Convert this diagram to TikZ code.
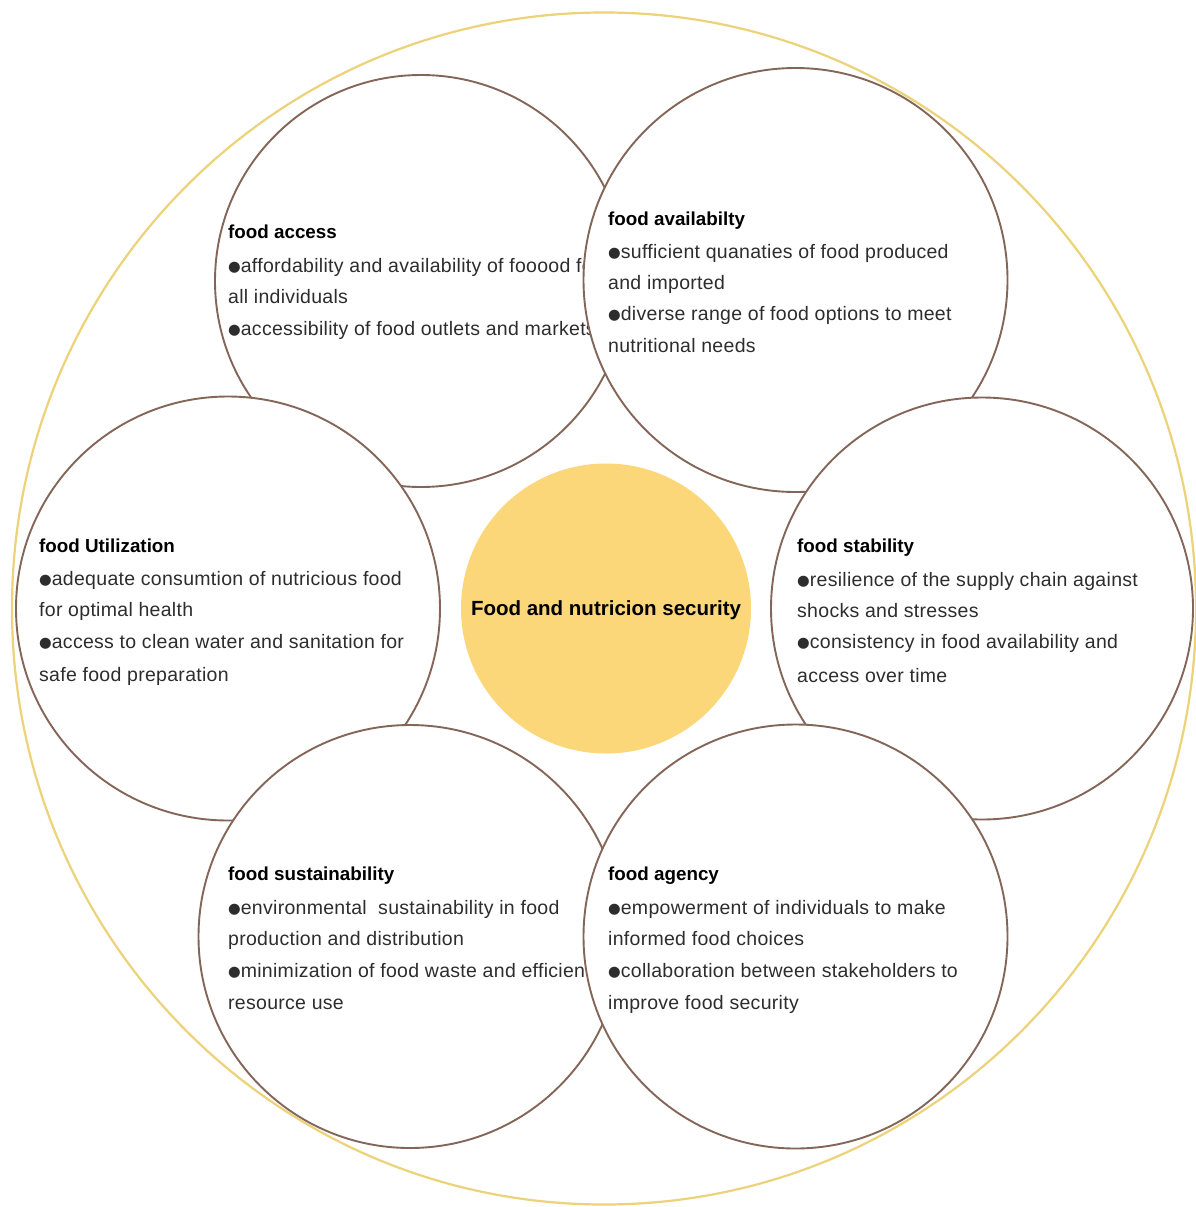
\documentclass[tikz,border=0pt]{standalone}
\usepackage{fontspec}
\usetikzlibrary{shapes.geometric}
\setmainfont{Liberation Sans}
\newfontfamily\dejavu{DejaVu Sans}
\newfontfamily\bodyfont[LetterSpace=1.5]{Liberation Sans}
\definecolor{ringbrown}{RGB}{132,102,88}
\definecolor{ringgold}{RGB}{236,210,120}
\definecolor{corefill}{RGB}{251,215,122}
\definecolor{bodytext}{RGB}{45,45,45}
\newcommand{\blt}{\raisebox{0.8pt}{\dejavu\fontsize{14.5}{14.5}\selectfont ●}}
\tikzset{
  petal/.style={circle, draw=ringbrown, line width=1.9pt, fill=white, minimum size=#1, inner sep=0pt},
  txt/.style={anchor=base west, inner sep=0pt, text=bodytext, font=\bodyfont\fontsize{19.5}{22}\selectfont},
  ttl/.style={anchor=base west, inner sep=0pt, text=black, font=\fontsize{18.8}{22}\selectfont\bfseries},
}
\begin{document}
\begin{tikzpicture}[x=1pt,y=-1pt]
\useasboundingbox (0,0) rectangle (1195,1207);
\fill[white] (0,0) rectangle (1195,1207);
\node[ellipse, draw=ringgold, line width=2.2pt, minimum width=1184pt, minimum height=1192pt, inner sep=0pt] (outer) at (604,608.5) {};

% food access
\node[petal=412pt] (acc) at (421,281) {};
\node[ttl] (acc0) at (228,238) {food access};
\node[txt] (acc1) at (228,272) {\blt affordability and availability of fooood for};
\node[txt] (acc2) at (228,303) {all individuals};
\node[txt] (acc3) at (228,335) {\blt accessibility of food outlets and markets};

% food availability
\node[petal=424pt] (avl) at (795.5,280) {};
\node[ttl] (avl0) at (608,225) {food availabilty};
\node[txt] (avl1) at (608,258) {\blt sufficient quanaties of food produced};
\node[txt] (avl2) at (608,289) {and imported};
\node[txt] (avl3) at (608,320) {\blt diverse range of food options to meet};
\node[txt] (avl4) at (608,352) {nutritional needs};

% food utilization
\node[petal=424pt] (utl) at (228,608.5) {};
\node[ttl] (utl0) at (39,552) {food Utilization};
\node[txt] (utl1) at (39,585) {\blt adequate consumtion of nutricious food};
\node[txt] (utl2) at (39,616) {for optimal health};
\node[txt] (utl3) at (39,648) {\blt access to clean water and sanitation for};
\node[txt] (utl4) at (39,681) {safe food preparation};

% food stability
\node[petal=422pt] (stb) at (982,608.5) {};
\node[ttl] (stb0) at (797,552) {food stability};
\node[txt] (stb1) at (797,586) {\blt resilience of the supply chain against};
\node[txt] (stb2) at (797,617) {shocks and stresses};
\node[txt] (stb3) at (797,648) {\blt consistency in food availability and};
\node[txt] (stb4) at (797,682) {access over time};

% food sustainability
\node[petal=423pt] (sus) at (410,936.5) {};
\node[ttl] (sus0) at (228,880) {food sustainability};
\node[txt] (sus1) at (228,914) {\blt environmental\ \ sustainability in food};
\node[txt] (sus2) at (228,945) {production and distribution};
\node[txt] (sus3) at (228,977) {\blt minimization of food waste and efficient};
\node[txt] (sus4) at (228,1009) {resource use};

% food agency
\node[petal=424pt] (agn) at (795.5,936.5) {};
\node[ttl] (agn0) at (608,880) {food agency};
\node[txt] (agn1) at (608,914) {\blt empowerment of individuals to make};
\node[txt] (agn2) at (608,945) {informed food choices};
\node[txt] (agn3) at (608,977) {\blt collaboration between stakeholders to};
\node[txt] (agn4) at (608,1009) {improve food security};

% centre
\node[circle, fill=corefill, minimum size=290pt, inner sep=0pt] (core) at (606,608.5) {};
\node[inner sep=0pt, font=\fontsize{20.5}{22}\selectfont\bfseries, text=black] (corelbl) at (606,610) {Food and nutricion security};
\end{tikzpicture}
\end{document}
